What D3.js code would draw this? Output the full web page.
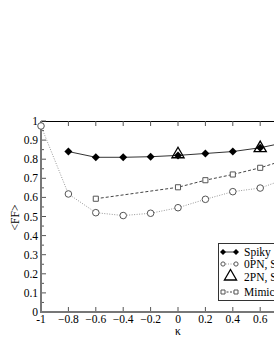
<!DOCTYPE html>
<html>
<head>
<meta charset="utf-8">
<script src="https://cdn.jsdelivr.net/npm/d3@7"></script>
<style>
  body { margin: 0; background: #fff; }
  svg { display: block; }
  svg text { font-family: "Liberation Serif", "Times New Roman", Times, serif; }
</style>
</head>
<body>
<svg id="chart" width="274" height="354"></svg>
<script>
// data
const xTicks = [-1, -0.8, -0.6, -0.4, -0.2, 0, 0.2, 0.4, 0.6, 0.8, 1];
const yTicks = [0, 0.1, 0.2, 0.3, 0.4, 0.5, 0.6, 0.7, 0.8, 0.9, 1];

const spikyX = [-0.8, -0.6, -0.4, -0.2, 0, 0.2, 0.4, 0.6, 0.8];
const spikyY = [0.84, 0.81, 0.81, 0.813, 0.82, 0.83, 0.84, 0.86, 0.89];

const smooth0X = [-1, -0.8, -0.6, -0.4, -0.2, 0, 0.2, 0.4, 0.6, 0.8];
const smooth0Y = [0.974, 0.618, 0.52, 0.505, 0.517, 0.546, 0.59, 0.63, 0.649, 0.70];

const smooth2X = [0, 0.6];
const smooth2Y = [0.826, 0.858];

const mimicX = [-0.6, 0, 0.2, 0.4, 0.6, 0.8];
const mimicY = [0.593, 0.653, 0.69, 0.72, 0.755, 0.80];

const legendLabels = ['Spiky', '0PN, Smooth', '2PN, Smooth', 'Mimicker'];

const FONT = '"Liberation Serif", "Times New Roman", serif';

const svg = d3.select('#chart');
const pLeft = 41, pRight = 315, pTop = 121, pBottom = 312;

const x = d3.scaleLinear().domain([-1, 1]).range([pLeft, pRight]);
const y = d3.scaleLinear().domain([0, 1]).range([pBottom, pTop]);

const zip = (xs, ys) => xs.map((d, i) => ({x: d, y: ys[i]}));
const line = d3.line().x(d => x(d.x)).y(d => y(d.y));

// frame
svg.append('line')
    .attr('x1', pLeft).attr('x2', pRight + 10)
    .attr('y1', pTop + 0.5).attr('y2', pTop + 0.5)
    .attr('stroke', '#000').attr('stroke-width', 1);

// ticks along top (pointing down) and bottom (pointing up)
const xTickG = svg.append('g');
xTicks.forEach(t => {
  xTickG.append('line')
      .attr('x1', x(t)).attr('x2', x(t))
      .attr('y1', pTop).attr('y2', pTop + 5)
      .attr('stroke', '#555').attr('stroke-width', 1);
  xTickG.append('line')
      .attr('x1', x(t)).attr('x2', x(t))
      .attr('y1', pBottom).attr('y2', pBottom - 5)
      .attr('stroke', '#555').attr('stroke-width', 1);
});

// y ticks: major + minor
const yMinor = d3.range(0, 1.0001, 0.05);
yMinor.forEach(t => {
  const major = Math.abs(Math.round(t * 10) - t * 10) < 1e-6;
  svg.append('line')
      .attr('x1', pLeft).attr('x2', pLeft + (major ? 5 : 3))
      .attr('y1', y(t)).attr('y2', y(t))
      .attr('stroke', '#555').attr('stroke-width', 1);
});

svg.append('line')
    .attr('x1', pLeft).attr('x2', pLeft)
    .attr('y1', pTop).attr('y2', pBottom + 1)
    .attr('stroke', '#777').attr('stroke-width', 2);
svg.append('line')
    .attr('x1', pLeft - 1).attr('x2', pRight + 10)
    .attr('y1', pBottom).attr('y2', pBottom)
    .attr('stroke', '#777').attr('stroke-width', 2);

// tick labels
svg.append('g').selectAll('text')
  .data(yTicks)
  .join('text')
    .attr('x', pLeft - 3)
    .attr('y', d => y(d) + 4)
    .attr('text-anchor', 'end')
    .attr('font-family', FONT)
    .attr('font-size', 11.5)
    .attr('fill', '#000')
    .text(d => d === 0 ? '0' : d === 1 ? '1' : d3.format('.1f')(d));

svg.append('g').selectAll('text')
  .data(xTicks)
  .join('text')
    .attr('x', d => x(d))
    .attr('y', 323)
    .attr('text-anchor', 'middle')
    .attr('font-family', FONT)
    .attr('font-size', 11.5)
    .attr('fill', '#000')
    .text(d => d === 0 ? '0' : Math.abs(d) === 1 ? String(d) : d3.format('.1f')(d));

// axis titles
svg.append('text')
    .attr('x', x(0)).attr('y', 335)
    .attr('text-anchor', 'middle')
    .attr('font-family', FONT)
    .attr('font-size', 11.5)
    .text('κ');
svg.append('text')
    .attr('transform', `translate(19,${(pTop + pBottom) / 2 + 1}) rotate(-90)`)
    .attr('text-anchor', 'middle')
    .attr('font-family', FONT)
    .attr('font-size', 11.5)
    .text('<FF>');

// series lines
svg.append('path')
    .datum(zip(smooth0X, smooth0Y))
    .attr('d', line)
    .attr('fill', 'none')
    .attr('stroke', '#999')
    .attr('stroke-width', 1)
    .attr('stroke-dasharray', '1,1.5');

svg.append('path')
    .datum(zip(mimicX, mimicY))
    .attr('d', line)
    .attr('fill', 'none')
    .attr('stroke', '#444')
    .attr('stroke-width', 1)
    .attr('stroke-dasharray', '3,2');

svg.append('path')
    .datum(zip(spikyX, spikyY))
    .attr('d', line)
    .attr('fill', 'none')
    .attr('stroke', '#333')
    .attr('stroke-width', 1);

// markers
const diamondPath = r => `M0,${-r}L${r},0L0,${r}L${-r},0Z`;
const circle = d3.symbol().type(d3.symbolCircle).size(34);
const square = d3.symbol().type(d3.symbolSquare).size(26);
const triangle = d3.symbol().type(d3.symbolTriangle).size(64);

svg.append('g').selectAll('path')
  .data(zip(smooth0X, smooth0Y))
  .join('path')
    .attr('transform', d => `translate(${x(d.x)},${y(d.y)})`)
    .attr('d', circle)
    .attr('fill', '#fff')
    .attr('stroke', '#555')
    .attr('stroke-width', 1);

svg.append('g').selectAll('path')
  .data(zip(mimicX, mimicY))
  .join('path')
    .attr('transform', d => `translate(${x(d.x)},${y(d.y)})`)
    .attr('d', square)
    .attr('fill', '#fff')
    .attr('stroke', '#555')
    .attr('stroke-width', 1);

svg.append('g').selectAll('path')
  .data(zip(spikyX, spikyY))
  .join('path')
    .attr('transform', d => `translate(${x(d.x)},${y(d.y)})`)
    .attr('d', diamondPath(4))
    .attr('fill', '#000');

svg.append('g').selectAll('path')
  .data(zip(smooth2X, smooth2Y))
  .join('path')
    .attr('transform', d => `translate(${x(d.x)},${y(d.y)})`)
    .attr('d', triangle)
    .attr('fill', 'none')
    .attr('stroke', '#000')
    .attr('stroke-width', 1.3);

// legend
const lg = svg.append('g');
lg.append('rect')
    .attr('x', 218.5).attr('y', 243.5)
    .attr('width', 120).attr('height', 57)
    .attr('fill', '#fff')
    .attr('stroke', '#333')
    .attr('stroke-width', 1);

const legendY = [252, 264, 276.5, 292];
const lx1 = 223, lx2 = 236, ltx = 244;

// Spiky
lg.append('line').attr('x1', lx1).attr('x2', lx2).attr('y1', legendY[0]).attr('y2', legendY[0])
    .attr('stroke', '#333');
[lx1, lx2].forEach(px => lg.append('path')
    .attr('transform', `translate(${px},${legendY[0]})`).attr('d', diamondPath(3)).attr('fill', '#000'));
// 0PN
lg.append('line').attr('x1', lx1).attr('x2', lx2).attr('y1', legendY[1]).attr('y2', legendY[1])
    .attr('stroke', '#999').attr('stroke-dasharray', '1,1.5');
[lx1, lx2].forEach(px => lg.append('path')
    .attr('transform', `translate(${px},${legendY[1]})`).attr('d', d3.symbol().type(d3.symbolCircle).size(14))
    .attr('fill', '#fff').attr('stroke', '#555'));
// 2PN
lg.append('path')
    .attr('transform', `translate(${(lx1 + lx2) / 2 + 1},${legendY[2]})`)
    .attr('d', triangle).attr('fill', 'none').attr('stroke', '#000').attr('stroke-width', 1.3);
// Mimic
lg.append('line').attr('x1', lx1).attr('x2', lx2).attr('y1', legendY[3]).attr('y2', legendY[3])
    .attr('stroke', '#444').attr('stroke-dasharray', '2,1.5');
[lx1, lx2].forEach(px => lg.append('path')
    .attr('transform', `translate(${px},${legendY[3]})`).attr('d', d3.symbol().type(d3.symbolSquare).size(16))
    .attr('fill', '#fff').attr('stroke', '#555'));

lg.selectAll('text.lab')
  .data(legendLabels)
  .join('text')
    .attr('class', 'lab')
    .attr('x', ltx)
    .attr('y', (d, i) => legendY[i] + 4)
    .attr('font-family', FONT)
    .attr('font-size', 11.5)
    .attr('fill', '#000')
    .text(d => d);
</script>
</body>
</html>
